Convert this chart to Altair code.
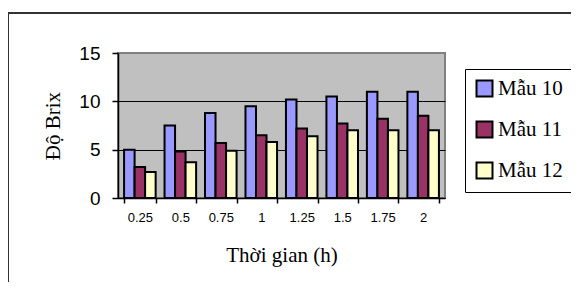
import altair as alt
import pandas as pd

times = ["0.25", "0.5", "0.75", "1", "1.25", "1.5", "1.75", "2"]
series = ["Mẫu 10", "Mẫu 11", "Mẫu 12"]
mau10 = [5.0, 7.5, 8.8, 9.5, 10.2, 10.5, 11.0, 11.0]
mau11 = [3.2, 4.8, 5.7, 6.5, 7.2, 7.7, 8.2, 8.5]
mau12 = [2.7, 3.7, 4.9, 5.8, 6.4, 7.0, 7.0, 7.0]
colors = ["#9999FF", "#993366", "#FFFFCC"]

rows = []
for name, vals in zip(series, [mau10, mau11, mau12]):
    for t, v in zip(times, vals):
        rows.append({"t": t, "s": name, "v": v})
df = pd.DataFrame(rows)

W, H = 327, 145
SERIF = "'Liberation Serif', 'Times New Roman', serif"

bars = alt.Chart(df).mark_bar(stroke="black", strokeWidth=2).encode(
    x=alt.X("t:N", sort=times,
            scale=alt.Scale(paddingInner=0.22, paddingOuter=0.15),
            axis=alt.Axis(title="Thời gian (h)", labelAngle=0, tickBand="extent",
                          labelFont="Liberation Sans", labelFontSize=13, labelColor="black",
                          labelPadding=8, tickSize=5, tickColor="black", domainColor="black",
                          domainWidth=1.5, tickWidth=1.5,
                          titleFont=SERIF, titleFontSize=21, titleFontWeight="normal",
                          titleColor="black", titleX=W / 2, titleY=57, titleBaseline="middle")),
    xOffset=alt.XOffset("s:N", sort=series),
    y=alt.Y("v:Q", scale=alt.Scale(domain=[0, 15]),
            axis=alt.Axis(title="Độ Brix", values=[0, 5, 10, 15], grid=True,
                          gridColor=alt.condition("datum.value == 15",
                                                  alt.value("#808080"), alt.value("black")),
                          gridWidth=1,
                          labelFont="Liberation Sans", labelFontSize=19, labelColor="black",
                          labelPadding=12, tickSize=6, tickColor="black", domainColor="black",
                          domainWidth=1.5, tickWidth=1.5,
                          titleFont=SERIF, titleFontSize=21, titleFontWeight="normal",
                          titleColor="black", titleAngle=-90, titleX=-65, titleY=H / 2,
                          titleBaseline="middle", titleAlign="center")),
    color=alt.Color("s:N", sort=series,
                    scale=alt.Scale(domain=series, range=colors),
                    legend=alt.Legend(title=None, orient="none", legendX=347, legendY=16,
                                      symbolType="square", symbolSize=256,
                                      symbolStrokeColor="black", symbolStrokeWidth=2,
                                      symbolOpacity=1,
                                      labelFont=SERIF, labelFontSize=21,
                                      labelColor="black", rowPadding=16, padding=9,
                                      fillColor="white", strokeColor="black",
                                      cornerRadius=0, labelOffset=3)),
)

frame = alt.Chart(pd.DataFrame({"k": [0]})).mark_rect(
    fill=None, stroke="#333333", strokeWidth=2
).encode(
    x=alt.value(-110), x2=alt.value(470), y=alt.value(-40), y2=alt.value(300)
)

chart = alt.layer(bars, frame).properties(
    width=W, height=H,
    background="white",
    autosize=alt.AutoSizeParams(type="none"),
    padding={"left": 110, "top": 45, "right": 126, "bottom": 84},
).configure_view(
    fill="#C0C0C0", stroke="#808080", strokeWidth=2
).configure_legend(
    labelFont=SERIF
)

chart.save("out.html", embed_options={"renderer": "svg", "actions": False})
